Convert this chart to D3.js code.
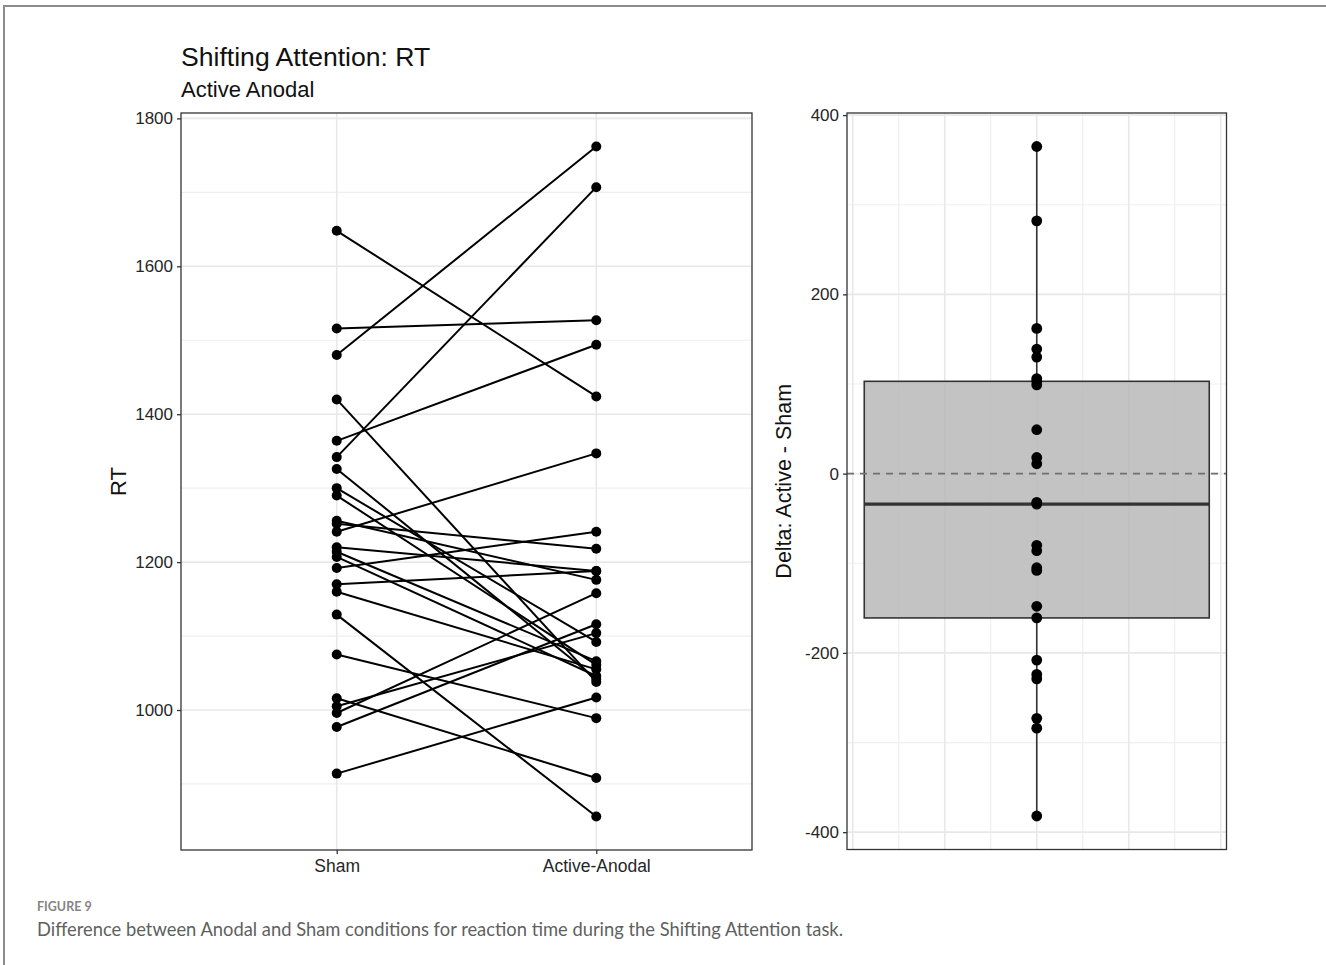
<!DOCTYPE html>
<html>
<head>
<meta charset="utf-8">
<script src="https://cdn.jsdelivr.net/npm/d3@7"></script>
<style>
  html, body { margin: 0; padding: 0; background: #fff; }
  svg { display: block; font-family: "Liberation Sans", Arial, sans-serif; }
</style>
</head>
<body>
<svg id="chart" width="1326" height="965"></svg>
<script>
// ---------------- data ----------------
const conditions = ["Sham", "Active-Anodal"];
const shamRT   = [1648, 1516, 1480, 1420, 1364, 1342, 1326, 1300, 1290, 1256, 1252, 1241, 1220,
                  1214, 1207, 1192, 1170, 1160, 1129, 1075, 1016, 1005, 996, 977, 914];
const activeRT = [1424, 1527, 1762, 1038, 1494, 1707, 1042, 1092, 1061, 1176, 1218, 1347, 1188,
                  1066, 1046, 1241, 1188, 1055, 856, 989, 908, 1104, 1158, 1116, 1017];
const leftTicks  = [1000, 1200, 1400, 1600, 1800];
const leftMinor  = [900, 1100, 1300, 1500, 1700];
const rightTicks = [-400, -200, 0, 200, 400];
const rightMinor = [-300, -100, 100, 300];
const boxXBreaks = [-0.4, -0.2, 0, 0.2, 0.4];
const boxXMinor  = [-0.3, -0.1, 0.1, 0.3];
const titleText = "Shifting Attention: RT";
const subtitleText = "Active Anodal";
const yTitleLeft = "RT";
const yTitleRight = "Delta: Active - Sham";
const figLabel = "FIGURE 9";
const captionText = "Difference between Anodal and Sham conditions for reaction time during the Shifting Attention task.";

// ---------------- helpers ----------------
const svg = d3.select("#chart");
const GRID_MAJOR = "#e8e8e8", GRID_MINOR = "#efefef", AXIS = "#333333", TXT = "#262626";
function expand(ext, f = 0.05) { const d = (ext[1] - ext[0]) * f; return [ext[0] - d, ext[1] + d]; }

// outer frame
svg.append("path").attr("d", "M4,965 V6 H1326").attr("fill", "none")
   .attr("stroke", "#8c8c8c").attr("stroke-width", 2);

// titles
svg.append("text").attr("x", 181).attr("y", 66).attr("font-size", 26.6).attr("fill", "#111").text(titleText);
svg.append("text").attr("x", 181).attr("y", 97).attr("font-size", 22).attr("fill", "#111").text(subtitleText);

// ---------------- left panel ----------------
const L = { x0: 181, x1: 752, y0: 113, y1: 850 };
const yL = d3.scaleLinear().domain(expand(d3.extent(shamRT.concat(activeRT)))).range([L.y1, L.y0]);
const xL = d3.scalePoint().domain(conditions).range([L.x0, L.x1]).padding(0.6);

const gL = svg.append("g");
gL.append("g").selectAll("line").data(leftMinor).join("line")
  .attr("x1", L.x0).attr("x2", L.x1).attr("y1", d => yL(d)).attr("y2", d => yL(d))
  .attr("stroke", GRID_MINOR).attr("stroke-width", 1.2);
gL.append("g").selectAll("line").data(leftTicks).join("line")
  .attr("x1", L.x0).attr("x2", L.x1).attr("y1", d => yL(d)).attr("y2", d => yL(d))
  .attr("stroke", GRID_MAJOR).attr("stroke-width", 1.6);
gL.append("g").selectAll("line").data(conditions).join("line")
  .attr("x1", d => xL(d)).attr("x2", d => xL(d)).attr("y1", L.y0).attr("y2", L.y1)
  .attr("stroke", GRID_MAJOR).attr("stroke-width", 1.6);

const pairs = shamRT.map((s, i) => ({ sham: s, active: activeRT[i] }));
gL.append("g").selectAll("line").data(pairs).join("line")
  .attr("x1", xL("Sham")).attr("x2", xL("Active-Anodal"))
  .attr("y1", d => yL(d.sham)).attr("y2", d => yL(d.active))
  .attr("stroke", "#000").attr("stroke-width", 2);
gL.append("g").selectAll("circle").data(shamRT).join("circle")
  .attr("cx", xL("Sham")).attr("cy", d => yL(d)).attr("r", 5).attr("fill", "#000");
gL.append("g").selectAll("circle").data(activeRT).join("circle")
  .attr("cx", xL("Active-Anodal")).attr("cy", d => yL(d)).attr("r", 5).attr("fill", "#000");

gL.append("rect").attr("x", L.x0).attr("y", L.y0).attr("width", L.x1 - L.x0).attr("height", L.y1 - L.y0)
  .attr("fill", "none").attr("stroke", AXIS).attr("stroke-width", 1.3);

const axL = gL.append("g").attr("transform", `translate(${L.x0},0)`)
  .call(d3.axisLeft(yL).tickValues(leftTicks).tickSize(4).tickPadding(4).tickFormat(d3.format("d")));
axL.select(".domain").remove();
axL.selectAll(".tick line").attr("stroke", AXIS).attr("stroke-width", 1.3);
axL.selectAll(".tick text").attr("font-size", 17).attr("fill", TXT).attr("font-family", "Liberation Sans, Arial, sans-serif");

const axB = gL.append("g").attr("transform", `translate(0,${L.y1})`)
  .call(d3.axisBottom(xL).tickSize(4).tickPadding(6));
axB.select(".domain").remove();
axB.selectAll(".tick line").attr("stroke", AXIS).attr("stroke-width", 1.3);
axB.selectAll(".tick text").attr("font-size", 17.5).attr("fill", TXT).attr("font-family", "Liberation Sans, Arial, sans-serif");

svg.append("text").attr("transform", `translate(126,${(L.y0 + L.y1) / 2}) rotate(-90)`)
  .attr("text-anchor", "middle").attr("font-size", 22).attr("fill", "#111").text(yTitleLeft);

// ---------------- right panel ----------------
const R = { x0: 847, x1: 1226.5, y0: 113, y1: 849.5 };
const deltas = shamRT.map((s, i) => activeRT[i] - s);
const yR = d3.scaleLinear().domain(expand(d3.extent(deltas))).range([R.y1, R.y0]);
const xR = d3.scaleLinear().domain(expand([-0.375, 0.375])).range([R.x0, R.x1]);

const gR = svg.append("g");
gR.append("g").selectAll("line").data(rightMinor).join("line")
  .attr("x1", R.x0).attr("x2", R.x1).attr("y1", d => yR(d)).attr("y2", d => yR(d))
  .attr("stroke", GRID_MINOR).attr("stroke-width", 1.2);
gR.append("g").selectAll("line").data(boxXMinor).join("line")
  .attr("x1", d => xR(d)).attr("x2", d => xR(d)).attr("y1", R.y0).attr("y2", R.y1)
  .attr("stroke", GRID_MINOR).attr("stroke-width", 1.2);
gR.append("g").selectAll("line").data(rightTicks).join("line")
  .attr("x1", R.x0).attr("x2", R.x1).attr("y1", d => yR(d)).attr("y2", d => yR(d))
  .attr("stroke", GRID_MAJOR).attr("stroke-width", 1.6);
gR.append("g").selectAll("line").data(boxXBreaks).join("line")
  .attr("x1", d => xR(d)).attr("x2", d => xR(d)).attr("y1", R.y0).attr("y2", R.y1)
  .attr("stroke", GRID_MAJOR).attr("stroke-width", 1.6);

// boxplot stats
const sorted = deltas.slice().sort(d3.ascending);
const q1 = d3.quantile(sorted, 0.25), med = d3.quantile(sorted, 0.5), q3 = d3.quantile(sorted, 0.75);
const iqr = q3 - q1;
const wLo = d3.min(sorted.filter(v => v >= q1 - 1.5 * iqr));
const wHi = d3.max(sorted.filter(v => v <= q3 + 1.5 * iqr));

gR.append("line").attr("x1", xR(0)).attr("x2", xR(0)).attr("y1", yR(q3)).attr("y2", yR(wHi))
  .attr("stroke", AXIS).attr("stroke-width", 1.6);
gR.append("line").attr("x1", xR(0)).attr("x2", xR(0)).attr("y1", yR(q1)).attr("y2", yR(wLo))
  .attr("stroke", AXIS).attr("stroke-width", 1.6);
gR.append("rect").attr("x", xR(-0.375)).attr("y", yR(q3))
  .attr("width", xR(0.375) - xR(-0.375)).attr("height", yR(q1) - yR(q3))
  .attr("fill", "#b9b9b9").attr("fill-opacity", 0.85).attr("stroke", AXIS).attr("stroke-width", 1.6);
gR.append("line").attr("x1", xR(-0.375)).attr("x2", xR(0.375)).attr("y1", yR(med)).attr("y2", yR(med))
  .attr("stroke", AXIS).attr("stroke-width", 3.4);

// zero reference line
gR.append("line").attr("x1", R.x0).attr("x2", R.x1).attr("y1", yR(0)).attr("y2", yR(0))
  .attr("stroke", "#707070").attr("stroke-width", 1.6).attr("stroke-dasharray", "7,6");

gR.append("g").selectAll("circle").data(deltas).join("circle")
  .attr("cx", xR(0)).attr("cy", d => yR(d)).attr("r", 5.4).attr("fill", "#000");

gR.append("rect").attr("x", R.x0).attr("y", R.y0).attr("width", R.x1 - R.x0).attr("height", R.y1 - R.y0)
  .attr("fill", "none").attr("stroke", AXIS).attr("stroke-width", 1.3);

const axR = gR.append("g").attr("transform", `translate(${R.x0},0)`)
  .call(d3.axisLeft(yR).tickValues(rightTicks).tickSize(4).tickPadding(4).tickFormat(d => String(d)));
axR.select(".domain").remove();
axR.selectAll(".tick line").attr("stroke", AXIS).attr("stroke-width", 1.3);
axR.selectAll(".tick text").attr("font-size", 17).attr("fill", TXT).attr("font-family", "Liberation Sans, Arial, sans-serif");

svg.append("text").attr("transform", `translate(791,${(R.y0 + R.y1) / 2}) rotate(-90)`)
  .attr("text-anchor", "middle").attr("font-size", 21.5).attr("fill", "#111").text(yTitleRight);

// ---------------- caption ----------------
svg.append("text").attr("x", 37).attr("y", 911).attr("font-family", "Lato, 'Open Sans', sans-serif")
  .attr("font-size", 12.5).attr("font-weight", 700).attr("fill", "#858585").text(figLabel);
svg.append("text").attr("x", 37).attr("y", 936).attr("font-family", "Lato, 'Open Sans', sans-serif")
  .attr("font-size", 19).attr("fill", "#5f5f5f")
  .attr("textLength", 806).attr("lengthAdjust", "spacingAndGlyphs").text(captionText);
</script>
</body>
</html>
